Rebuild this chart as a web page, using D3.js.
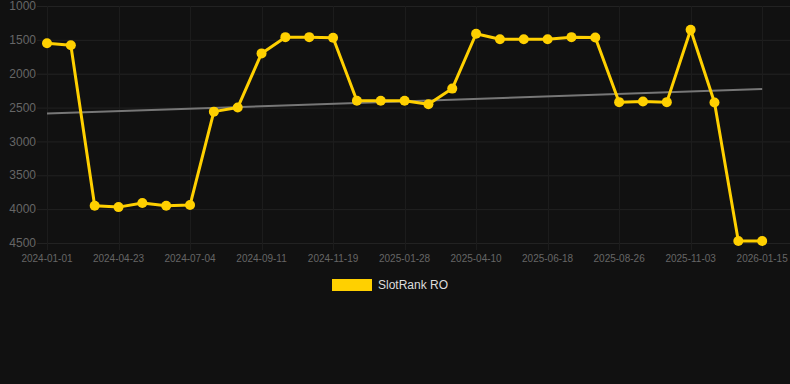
<!DOCTYPE html>
<html>
<head>
<meta charset="utf-8">
<script src="https://cdn.jsdelivr.net/npm/d3@7"></script>
<style>
  html, body { margin: 0; padding: 0; background: #111111; }
  svg { display: block; font-family: "Liberation Sans", Arial, sans-serif; }
</style>
</head>
<body>
<div class="chart"></div>
<script>
// rank history, lower is better so the y axis runs upside down

var dates = [
  "2024-01-01", "2024-02-07", "2024-03-16",
  "2024-04-23", "2024-05-17", "2024-06-10",
  "2024-07-04", "2024-07-27", "2024-08-19",
  "2024-09-11", "2024-10-04", "2024-10-27",
  "2024-11-19", "2024-12-12", "2025-01-05",
  "2025-01-28", "2025-02-21", "2025-03-17",
  "2025-04-10", "2025-05-03", "2025-05-26",
  "2025-06-18", "2025-07-11", "2025-08-03",
  "2025-08-26", "2025-09-18", "2025-10-11",
  "2025-11-03", "2025-11-27", "2025-12-22",
  "2026-01-15", ""
];

var ranks = [
  1550, 1580, 3950, 3970, 3910, 3950, 3940, 2560, 2500, 1700,
  1460, 1460, 1470, 2400, 2400, 2400, 2450, 2220, 1410, 1490,
  1490, 1490, 1460, 1465, 2420, 2410, 2420, 1350, 2425, 4470,
  4470
];

var yTicks = [1000, 1500, 2000, 2500, 3000, 3500, 4000, 4500];

var seriesName = "SlotRank RO";

var width = 790,
    height = 384,
    lineColor = "#ffd000";

var svg = d3.select(".chart").append("svg")
    .attr("width", width)
    .attr("height", height);

var x = d3.scalePoint()
    .domain(d3.range(dates.length))
    .range([47, 786]);

var y = d3.scaleLinear()
    .domain([1000, 4500])
    .range([6, 243]);

// horizontal grid + y labels
svg.selectAll(".hgrid")
    .data(yTicks)
  .enter().append("line")
    .attr("x1", 37)
    .attr("x2", width)
    .attr("y1", function(d) { return y(d) + 0.5; })
    .attr("y2", function(d) { return y(d) + 0.5; })
    .attr("stroke", "#222222")
    .attr("stroke-width", 1);

svg.selectAll(".ylabel")
    .data(yTicks)
  .enter().append("text")
    .attr("x", 36)
    .attr("y", function(d) { return y(d); })
    .attr("dy", "0.35em")
    .attr("text-anchor", "end")
    .attr("fill", "#666666")
    .attr("font-size", 12)
    .text(function(d) { return d; });

// only every third date gets a label and a vertical line
var shown = d3.range(0, ranks.length, 3);

svg.selectAll(".vgrid")
    .data(shown)
  .enter().append("line")
    .attr("x1", function(i) { return Math.round(x(i)) + 0.5; })
    .attr("x2", function(i) { return Math.round(x(i)) + 0.5; })
    .attr("y1", 6)
    .attr("y2", 250)
    .attr("stroke", "#1c1c1c")
    .attr("stroke-width", 1);

svg.selectAll(".xlabel")
    .data(shown)
  .enter().append("text")
    .attr("x", function(i) { return x(i); })
    .attr("y", 262)
    .attr("text-anchor", "middle")
    .attr("fill", "#666666")
    .attr("font-size", 10)
    .text(function(i) { return dates[i]; });

// least squares trend over the series
var n = ranks.length,
    mx = d3.mean(d3.range(n)),
    my = d3.mean(ranks),
    sxy = d3.sum(ranks, function(v, i) { return (i - mx) * (v - my); }),
    sxx = d3.sum(d3.range(n), function(i) { return (i - mx) * (i - mx); }),
    slope = sxy / sxx,
    icpt = my - slope * mx;

svg.append("line")
    .attr("x1", x(0))
    .attr("y1", y(icpt))
    .attr("x2", x(n - 1))
    .attr("y2", y(icpt + slope * (n - 1)))
    .attr("stroke", "#777777")
    .attr("stroke-width", 2);

var line = d3.line()
    .x(function(d, i) { return x(i); })
    .y(function(d) { return y(d); });

svg.append("path")
    .datum(ranks)
    .attr("d", line)
    .attr("fill", "none")
    .attr("stroke", lineColor)
    .attr("stroke-width", 3)
    .attr("stroke-linejoin", "round");

svg.selectAll(".dot")
    .data(ranks)
  .enter().append("circle")
    .attr("cx", function(d, i) { return x(i); })
    .attr("cy", function(d) { return y(d); })
    .attr("r", 5)
    .attr("fill", lineColor);

// legend
svg.append("rect")
    .attr("x", 332)
    .attr("y", 279)
    .attr("width", 40)
    .attr("height", 12)
    .attr("fill", lineColor);

svg.append("text")
    .attr("x", 378)
    .attr("y", 285)
    .attr("dy", "0.35em")
    .attr("fill", "#dddddd")
    .attr("font-size", 12)
    .text(seriesName);
</script>
</body>
</html>
